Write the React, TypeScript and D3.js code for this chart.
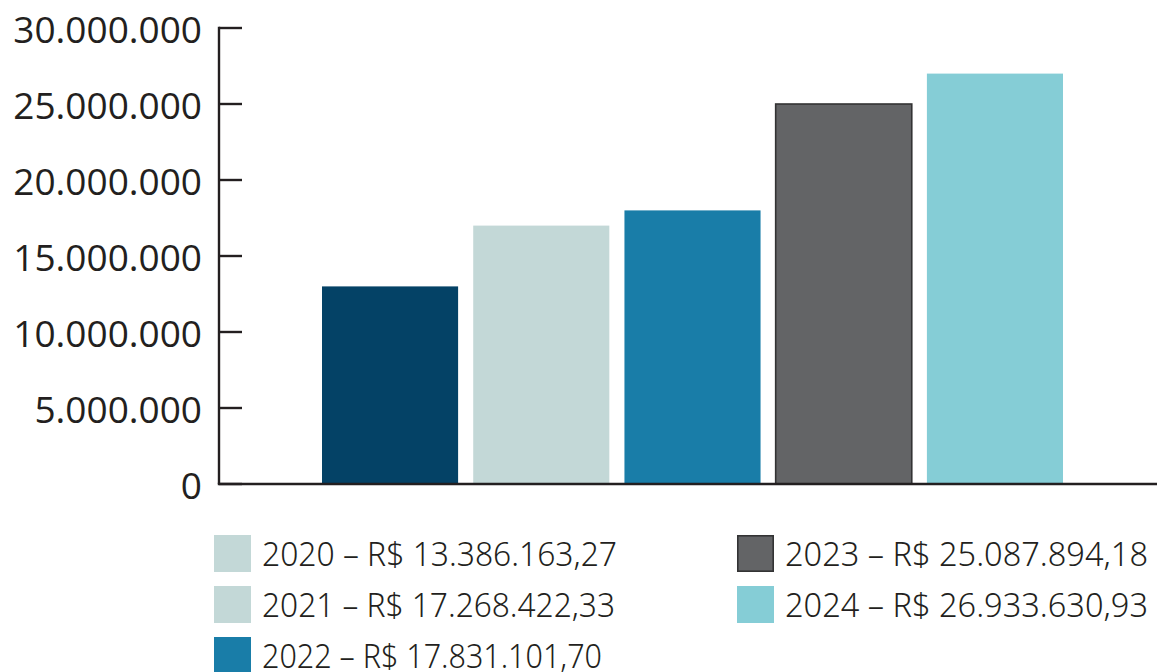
import React, { useRef, useEffect } from 'react'
import { select, scaleLinear, scaleBand, scaleOrdinal } from 'd3'

// values
const years = ['2020', '2021', '2022', '2023', '2024']
const barValues = [13000000, 17000000, 18000000, 25000000, 27000000]
const legendLabels = [
  '2020 – R$ 13.386.163,27',
  '2021 – R$ 17.268.422,33',
  '2022 – R$ 17.831.101,70',
  '2023 – R$ 25.087.894,18',
  '2024 – R$ 26.933.630,93',
]
const legendSwatchYears = ['2021', '2021', '2022', '2023', '2024']
const yTicks = [0, 5000000, 10000000, 15000000, 20000000, 25000000, 30000000]
const barColors = ['#044266', '#c3d8d7', '#197da8', '#636466', '#85cdd6']

export default function App() {
  const ref = useRef<SVGSVGElement>(null)

  useEffect(() => {
    const svg = select(ref.current)
    svg.selectAll('*').remove()

    const width = 1157
    const height = 672
    const axisX = 219
    const ink = '#231f20'

    const yScale = scaleLinear().domain([0, 30000000]).range([484, 28])
    const xScale = scaleBand().domain(years).range([322, 1063]).paddingInner(0.1).paddingOuter(0)
    const color = scaleOrdinal<string, string>().domain(years).range(barColors)

    const fmt = (v: number) => (v === 0 ? '0' : v.toLocaleString('de-DE'))

    // bars
    svg.append('g')
      .selectAll('rect')
      .data(years)
      .enter()
      .append('rect')
      .attr('x', d => xScale(d) as number)
      .attr('y', (d, i) => yScale(barValues[i]))
      .attr('width', xScale.bandwidth())
      .attr('height', (d, i) => yScale(0) - yScale(barValues[i]))
      .attr('fill', d => color(d))
      .attr('stroke', d => (d === '2023' ? '#333334' : 'none'))
      .attr('stroke-width', 1.6)

    // y axis
    const axis = svg.append('g')
    axis.append('line')
      .attr('x1', axisX).attr('x2', axisX)
      .attr('y1', yScale(30000000) - 1.2).attr('y2', yScale(0))
      .attr('stroke', ink).attr('stroke-width', 2.4)
    axis.append('line')
      .attr('x1', axisX - 1.2).attr('x2', width)
      .attr('y1', yScale(0)).attr('y2', yScale(0))
      .attr('stroke', ink).attr('stroke-width', 2.4)
    axis.selectAll('.tick')
      .data(yTicks)
      .enter()
      .append('line')
      .attr('x1', axisX).attr('x2', 242)
      .attr('y1', d => yScale(d)).attr('y2', d => yScale(d))
      .attr('stroke', ink).attr('stroke-width', 2.4)
    axis.selectAll('.label')
      .data(yTicks)
      .enter()
      .append('text')
      .attr('x', 202)
      .attr('y', d => yScale(d) + 15)
      .attr('text-anchor', 'end')
      .attr('font-family', '"Open Sans", sans-serif')
      .attr('font-size', 37)
      .attr('fill', ink)
      .text(d => fmt(d))

    // legend
    const legendPos = [
      { x: 214, y: 566 },
      { x: 214, y: 617 },
      { x: 214, y: 668 },
      { x: 737, y: 566 },
      { x: 737, y: 617 },
    ]
    const legendWidths = [355, 353, 340, 363, 363]
    const lg = svg.append('g')
    legendLabels.forEach((label, i) => {
      const p = legendPos[i]
      const yr = legendSwatchYears[i]
      lg.append('rect')
        .attr('x', p.x + (yr === '2023' ? 0.8 : 0))
        .attr('y', p.y - 31 + (yr === '2023' ? 0.8 : 0))
        .attr('width', yr === '2023' ? 35.4 : 37)
        .attr('height', yr === '2023' ? 35.4 : 37)
        .attr('fill', color(yr))
        .attr('stroke', yr === '2023' ? '#333334' : 'none')
        .attr('stroke-width', 1.6)
      lg.append('text')
        .attr('x', p.x + 48)
        .attr('y', p.y)
        .attr('font-family', '"Noto Sans", sans-serif')
        .attr('font-size', 33)
        .attr('font-weight', 300)
        .attr('fill', ink)
        .attr('textLength', legendWidths[i])
        .attr('lengthAdjust', 'spacingAndGlyphs')
        .text(label)
    })

    svg.attr('width', width).attr('height', height)
  }, [])

  return (
    <div>
      <svg ref={ref} width={1157} height={672}
        style={{ position: 'absolute', left: 0, top: 0, background: '#fff' }} />
    </div>
  )
}
